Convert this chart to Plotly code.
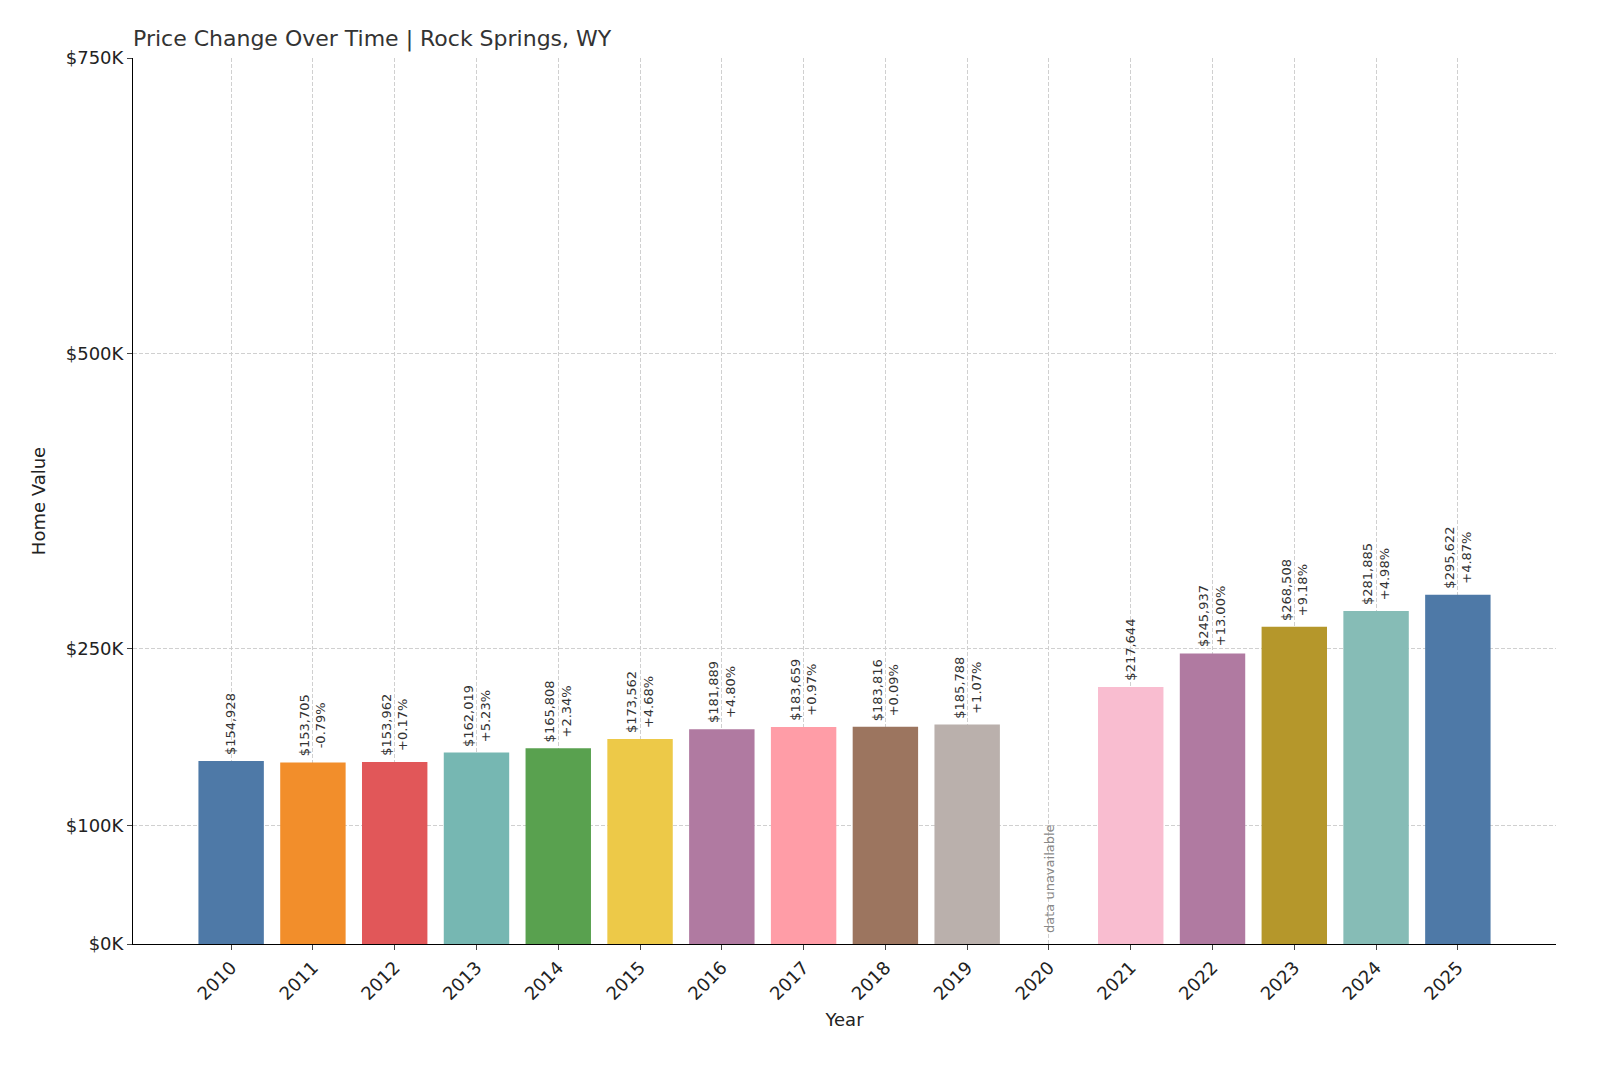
import plotly.graph_objects as go

years = ["2010","2011","2012","2013","2014","2015","2016","2017","2018","2019","2020","2021","2022","2023","2024","2025"]
values = [154928,153705,153962,162019,165808,173562,181889,183659,183816,185788,None,217644,245937,268508,281885,295622]
changes = ["","-0.79%","+0.17%","+5.23%","+2.34%","+4.68%","+4.80%","+0.97%","+0.09%","+1.07%","","","+13.00%","+9.18%","+4.98%","+4.87%"]
colors = ["#4e79a7","#f28e2b","#e15759","#76b7b2","#59a14f","#edc948","#b07aa1","#ff9da7","#9c755f","#bab0ac","#ffffff","#f9bdd0","#b07aa1","#b5972b","#86bcb6","#4e79a7"]
tickvals = [0,100000,250000,500000,750000]
ticktext = ["$0K","$100K","$250K","$500K","$750K"]

fig = go.Figure()
xs = [i for i,v in enumerate(values) if v is not None]
fig.add_trace(go.Bar(x=xs, y=[values[i] for i in xs], marker_color=[colors[i] for i in xs],
                     width=0.8, marker_line_width=0, hoverinfo="skip"))
for i,v in enumerate(values):
    if v is None:
        fig.add_annotation(x=i, y=8000, text="data unavailable", textangle=-90, showarrow=False,
                           yanchor="bottom", font=dict(size=13, color="#888"))
        continue
    txt = f"${v:,}" + (f"<br>{changes[i]}" if changes[i] else "")
    fig.add_annotation(x=i, y=v, text=txt, textangle=-90, showarrow=False, yanchor="bottom",
                       yshift=4, font=dict(size=13, color="#333"))

fig.update_layout(
    width=1600, height=1067, plot_bgcolor="white", paper_bgcolor="white",
    font=dict(family="DejaVu Sans", color="#222"),
    margin=dict(l=125, r=52, t=50, b=131),
    title=dict(text="Price Change Over Time | Rock Springs, WY", x=125/1600, xanchor="left",
               y=1-30/1067, yanchor="middle", font=dict(size=22, color="#333")),
    showlegend=False,
    xaxis=dict(title=dict(text="Year", font=dict(size=18), standoff=10), tickmode="array",
               tickvals=list(range(16)), ticktext=years, tickangle=-45, range=[-1.2,16.2],
               tickfont=dict(size=18), showgrid=True, gridcolor="#d0d0d0", griddash="4px,2px",
               showline=True, linecolor="black", ticks="outside", ticklen=5, zeroline=False),
    yaxis=dict(title=dict(text="Home Value", font=dict(size=18)), tickmode="array",
               tickvals=tickvals, ticktext=ticktext, range=[0,750000], tickfont=dict(size=18),
               showgrid=True, gridcolor="#d0d0d0", griddash="4px,2px", showline=True, linecolor="black",
               ticks="outside", ticklen=5, zeroline=False),
)
fig.write_html("out.html")
